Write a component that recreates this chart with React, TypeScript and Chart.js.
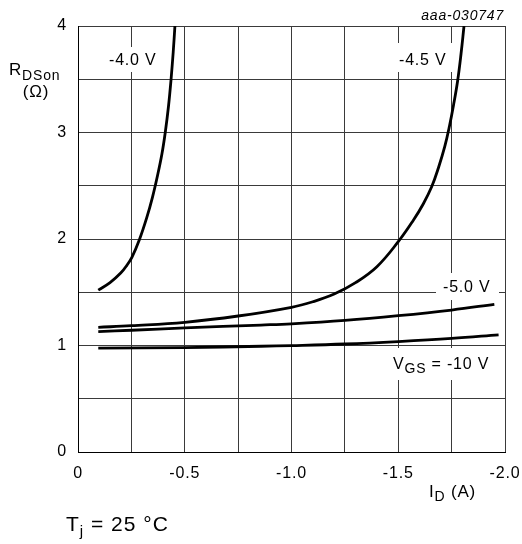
import React, { useEffect, useRef } from "react";
import { Chart, registerables } from "chart.js";

Chart.register(...registerables);

// I_D (A) and R_DSon (Ω)
const id40 = [-0.095, -0.15, -0.2, -0.228, -0.253, -0.287, -0.322, -0.349, -0.372, -0.393, -0.409, -0.424, -0.436, -0.446, -0.454];
const r40 = [1.52, 1.59, 1.68, 1.75, 1.83, 1.99, 2.2, 2.394, 2.592, 2.798, 3.005, 3.249, 3.502, 3.756, 4.0];

const id45 = [-0.095, -0.25, -0.5, -0.75, -1.0, -1.1, -1.2, -1.3, -1.4, -1.5, -1.57, -1.617, -1.657, -1.688, -1.718, -1.74, -1.759, -1.778, -1.794, -1.808];
const r45 = [1.171, 1.186, 1.218, 1.277, 1.359, 1.411, 1.483, 1.59, 1.74, 1.975, 2.174, 2.329, 2.493, 2.667, 2.869, 3.061, 3.258, 3.484, 3.737, 4.0];

const id50 = [-0.095, -0.25, -0.5, -0.857, -1.0, -1.25, -1.5, -1.75, -1.95];
const r50 = [1.13, 1.143, 1.165, 1.192, 1.204, 1.236, 1.28, 1.333, 1.387];

const id10 = [-0.095, -0.5, -0.857, -1.0, -1.25, -1.5, -1.75, -1.97];
const r10 = [0.975, 0.98, 0.993, 0.999, 1.014, 1.037, 1.066, 1.1];

const xMin = -2.0;
const xMax = 0;
const xStep = 0.25;
const yMin = 0;
const yMax = 4;
const yStep = 0.5;

const FONT = "'Liberation Sans', Arial, Helvetica, sans-serif";
const SPACING = "0.8px";

function toPoints(xs: number[], ys: number[]) {
  return xs.map((x, i) => ({ x, y: ys[i] }));
}

const annotations = {
  id: "annotations",
  beforeDraw(chart: any) {
    (chart.ctx as any).letterSpacing = SPACING;
  },
  beforeDatasetsDraw(chart: any) {
    const ctx = chart.ctx;
    ctx.save();
    ctx.fillStyle = "#ffffff";
    ctx.fillRect(101, 47, 65, 25);
    ctx.fillRect(398, 43, 55, 29);
    ctx.fillRect(436, 273, 63, 27);
    ctx.fillRect(384, 348, 120, 32);
    ctx.restore();
  },
  afterDraw(chart: any) {
    const ctx = chart.ctx;
    ctx.save();
    (ctx as any).letterSpacing = SPACING;
    ctx.fillStyle = "#000000";
    ctx.textBaseline = "alphabetic";
    ctx.textAlign = "left";

    // curve labels
    ctx.font = `16px ${FONT}`;
    ctx.fillText("-4.0 V", 109, 65);
    ctx.fillText("-4.5 V", 399, 65);
    ctx.fillText("-5.0 V", 443, 292);

    // V_GS label
    let x = 393;
    ctx.font = `16px ${FONT}`;
    ctx.fillText("V", x, 369);
    x += ctx.measureText("V").width;
    ctx.font = `14px ${FONT}`;
    ctx.fillText("GS", x, 373);
    x += ctx.measureText("GS").width;
    ctx.font = `16px ${FONT}`;
    ctx.fillText(" = -10 V", x, 369);

    // figure id
    ctx.font = `italic 14px ${FONT}`;
    ctx.textAlign = "right";
    ctx.fillText("aaa-030747", 504, 20);
    ctx.textAlign = "left";

    // y axis title
    x = 9;
    ctx.font = `17px ${FONT}`;
    ctx.fillText("R", x, 75);
    x += ctx.measureText("R").width;
    ctx.font = `14px ${FONT}`;
    ctx.fillText("DSon", x, 80);
    ctx.font = `17px ${FONT}`;
    ctx.textAlign = "center";
    ctx.fillText("(\u03A9)", 36, 97);
    ctx.textAlign = "left";

    // x axis title
    x = 429;
    ctx.font = `17px ${FONT}`;
    ctx.fillText("I", x, 497);
    x += ctx.measureText("I").width;
    ctx.font = `14px ${FONT}`;
    ctx.fillText("D", x, 501);
    x += ctx.measureText("D").width;
    ctx.font = `17px ${FONT}`;
    ctx.fillText(" (A)", x, 497);

    // Tj
    (ctx as any).letterSpacing = "1px";
    x = 66;
    ctx.font = `21px ${FONT}`;
    ctx.fillText("T", x, 531);
    x += ctx.measureText("T").width;
    ctx.font = `15px ${FONT}`;
    ctx.fillText("j", x, 536);
    x += ctx.measureText("j").width;
    ctx.font = `21px ${FONT}`;
    ctx.fillText(" = 25 \u00B0C", x, 531);

    ctx.restore();
  },
};

export default function App() {
  const ref = useRef<HTMLCanvasElement | null>(null);

  useEffect(() => {
    if (!ref.current) return;
    const line = (xs: number[], ys: number[], label: string) => ({
      label,
      data: toPoints(xs, ys),
      borderColor: "#000000",
      backgroundColor: "#000000",
      borderWidth: 2.8,
      pointRadius: 0,
      fill: false,
      tension: 0.4,
      borderCapStyle: "butt" as const,
      borderJoinStyle: "round" as const,
    });
    const chart = new Chart(ref.current, {
      type: "line",
      data: {
        datasets: [
          line(id40, r40, "-4.0 V"),
          line(id45, r45, "-4.5 V"),
          line(id50, r50, "-5.0 V"),
          line(id10, r10, "-10 V"),
        ],
      },
      options: {
        animation: false,
        responsive: false,
        devicePixelRatio: 1,
        layout: { padding: { left: 0, right: 17, top: 26, bottom: 0 } },
        plugins: {
          legend: { display: false },
          tooltip: { enabled: false },
        },
        scales: {
          x: {
            type: "linear",
            min: xMin,
            max: xMax,
            reverse: true,
            afterFit: (s: any) => {
              s.height = 92;
              s.paddingLeft = 0;
              s.paddingRight = 0;
            },
            grid: { color: "#3a3a3a", lineWidth: 1, drawTicks: false },
            border: { display: true, color: "#000000", width: 1 },
            ticks: {
              stepSize: xStep,
              autoSkip: false,
              maxRotation: 0,
              padding: 12,
              color: "#000000",
              font: { family: FONT, size: 16 },
              callback: (v: any) => {
                const n = Number(v);
                if (Math.abs(n / 0.5 - Math.round(n / 0.5)) > 1e-6) return "";
                return n === 0 ? "0" : n.toFixed(1);
              },
            },
          },
          y: {
            type: "linear",
            min: yMin,
            max: yMax,
            afterFit: (s: any) => {
              s.width = 78;
              s.paddingTop = 0;
              s.paddingBottom = 0;
            },
            grid: { color: "#3a3a3a", lineWidth: 1, drawTicks: false },
            border: { display: true, color: "#000000", width: 1 },
            ticks: {
              stepSize: yStep,
              autoSkip: false,
              padding: 11,
              color: "#000000",
              font: { family: FONT, size: 16 },
              callback: (v: any) => {
                const n = Number(v);
                return Math.abs(n - Math.round(n)) < 1e-6 ? String(Math.round(n)) : "";
              },
            },
          },
        },
      },
      plugins: [annotations],
    });
    return () => chart.destroy();
  }, []);

  return (
    <div style={{ position: "fixed", left: 0, top: 0, width: 522, height: 544, background: "#ffffff" }}>
      <canvas ref={ref} width={522} height={544} style={{ display: "block", width: 522, height: 544 }} />
    </div>
  );
}
